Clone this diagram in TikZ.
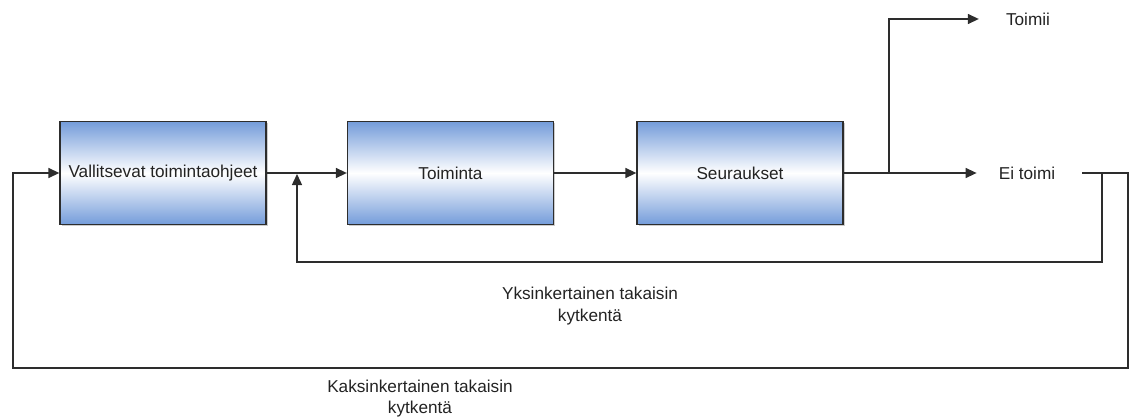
\documentclass[tikz,border=0pt]{standalone}
\usepackage{fontspec}
\setmainfont{Liberation Sans}
\usetikzlibrary{arrows.meta,shadows}
\definecolor{boxblue}{RGB}{116,156,218}
\definecolor{linegray}{RGB}{45,45,45}
\definecolor{textgray}{RGB}{35,35,35}
\begin{document}
\begin{tikzpicture}[x=1pt,y=-1pt,
  stage/.style={draw=linegray, line width=1.3pt,
    minimum width=206pt, minimum height=103pt, inner sep=0pt,
    top color=boxblue, bottom color=boxblue, middle color=white,
    font=\fontsize{17.2}{20}\selectfont, text=textgray,
    drop shadow={shadow xshift=1.5pt, shadow yshift=-1.5pt, opacity=0.4, fill=gray}},
  wire/.style={draw=linegray, line width=1.4pt},
  flow/.style={wire, -{Triangle[length=11pt,width=10pt]}},
  note/.style={font=\fontsize{17.2}{21.5}\selectfont, text=textgray, align=center, inner sep=0pt},
  outcome/.style={font=\fontsize{17.2}{20}\selectfont, text=textgray, inner sep=0pt}]
  \useasboundingbox (0,0) rectangle (1130,417);

  % process stages
  \node[stage] (b1) at (163,173) {Vallitsevat toimintaohjeet};
  \node[stage] (b2) at (450.5,173) {Toiminta};
  \node[stage] (b3) at (740,173) {Seuraukset};

  % outcomes
  \node[outcome] (ok) at (1028,19) {Toimii};
  \node[outcome] (fail) at (1027,173) {Ei toimi};

  % routing points
  \coordinate (split) at (889,173);
  \coordinate (splitup) at (889,19);
  \coordinate (failout) at (1082,173);
  \coordinate (loopone) at (1102,173);
  \coordinate (merge) at (297,174);

  % forward path
  \draw[flow] (b1.east) -- (b2.west);
  \draw[flow] (b2.east) -- (b3.west);
  \draw[wire] (b3.east) -- (split);
  \draw[flow, shorten >=22pt] (split) -- (fail.west);
  \draw[flow, shorten >=27pt] (split) -- (splitup) -- (ok.west);

  % single-loop feedback
  \draw[flow] (loopone) -- (1102,262) -- (297,262) -- (merge);

  % double-loop feedback
  \draw[flow] (failout) -- (1128,173) -- (1128,368) -- (13,368) -- (13,173) -- (b1.west);

  % loop captions
  \node[note] (single) at (590,306) {Yksinkertainen takaisin\\kytkentä};
  \node[note] (double) at (420,398.5) {Kaksinkertainen takaisin\\kytkentä};
\end{tikzpicture}
\end{document}
